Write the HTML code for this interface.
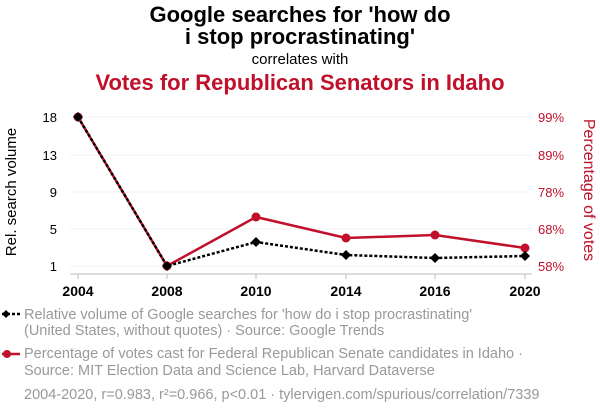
<!DOCTYPE html>
<html><head><style>
body{margin:0;background:#fff;width:600px;height:414px;overflow:hidden;font-family:"Liberation Sans",sans-serif}
</style></head><body>
<svg width="600" height="414" xmlns="http://www.w3.org/2000/svg" font-family="Liberation Sans, sans-serif">
<text x="300" y="22" text-anchor="middle" font-size="22" font-weight="bold" fill="#000">Google searches for 'how do</text>
<text x="300" y="44" text-anchor="middle" font-size="22" font-weight="bold" fill="#000">i stop procrastinating'</text>
<text x="300" y="64" text-anchor="middle" font-size="15" fill="#000">correlates with</text>
<text x="300" y="90" text-anchor="middle" font-size="22" font-weight="bold" fill="#c0102a">Votes for Republican Senators in Idaho</text>
<g stroke="#f0f0f0" stroke-width="1">
<line x1="70" x2="532" y1="117" y2="117"/><line x1="70" x2="532" y1="155" y2="155"/><line x1="70" x2="532" y1="192" y2="192"/><line x1="70" x2="532" y1="229" y2="229"/><line x1="70" x2="532" y1="266" y2="266"/>
</g>
<line x1="70" x2="532" y1="274" y2="274" stroke="#bbb"/>
<g stroke="#bbb"><line x1="78" x2="78" y1="274" y2="279"/><line x1="167" x2="167" y1="274" y2="279"/><line x1="256" x2="256" y1="274" y2="279"/><line x1="346" x2="346" y1="274" y2="279"/><line x1="435" x2="435" y1="274" y2="279"/><line x1="525" x2="525" y1="274" y2="279"/></g>
<g font-size="13" text-anchor="end" fill="#000">
<text x="57" y="122">18</text><text x="57" y="160">13</text><text x="57" y="197">9</text><text x="57" y="234">5</text><text x="57" y="271">1</text></g>
<g font-size="13" fill="#c0102a">
<text x="538" y="122">99%</text><text x="538" y="160">89%</text><text x="538" y="197">78%</text><text x="538" y="234">68%</text><text x="538" y="271">58%</text></g>
<g font-size="14" font-weight="bold" text-anchor="middle" fill="#000">
<text x="78" y="296">2004</text><text x="167" y="296">2008</text><text x="256" y="296">2010</text><text x="346" y="296">2014</text><text x="435" y="296">2016</text><text x="525" y="296">2020</text></g>
<text transform="translate(16,192) rotate(-90)" text-anchor="middle" font-size="15" fill="#000">Rel. search volume</text>
<text transform="translate(584,190) rotate(90)" text-anchor="middle" font-size="16" fill="#c0102a">Percentage of votes</text>
<polyline points="78,117 167,266 256,217 346,238 435,235 525,248" fill="none" stroke="#c0102a" stroke-width="2.5"/>
<g fill="#c0102a"><circle cx="78" cy="117" r="4.5"/><circle cx="167" cy="266" r="4.5"/><circle cx="256" cy="217" r="4.5"/><circle cx="346" cy="238" r="4.5"/><circle cx="435" cy="235" r="4.5"/><circle cx="525" cy="248" r="4.5"/></g>
<polyline points="78,117 167,266 256,242 346,255 435,258 525,256" fill="none" stroke="#000" stroke-width="2.5" stroke-dasharray="3,2"/>
<g fill="#000"><path d="M78 112l5 5-5 5-5-5z"/><path d="M167 261l5 5-5 5-5-5z"/><path d="M256 237l5 5-5 5-5-5z"/><path d="M346 250l5 5-5 5-5-5z"/><path d="M435 253l5 5-5 5-5-5z"/><path d="M525 251l5 5-5 5-5-5z"/></g>
<line x1="2" x2="20" y1="314" y2="314" stroke="#000" stroke-width="2.5" stroke-dasharray="3,2"/>
<path d="M6 310l4 4-4 4-4-4z" fill="#000"/>
<text x="24" y="319" font-size="14.5" fill="#999">Relative volume of Google searches for 'how do i stop procrastinating'</text>
<text x="24" y="335" font-size="14.5" fill="#999">(United States, without quotes) · Source: Google Trends</text>
<line x1="2" x2="20" y1="354" y2="354" stroke="#c0102a" stroke-width="2.5"/>
<circle cx="7" cy="354" r="4" fill="#c0102a"/>
<text x="24" y="358" font-size="14.5" fill="#999">Percentage of votes cast for Federal Republican Senate candidates in Idaho ·</text>
<text x="24" y="375" font-size="14.5" fill="#999">Source: MIT Election Data and Science Lab, Harvard Dataverse</text>
<text x="24" y="399" font-size="14.5" fill="#999">2004-2020, r=0.983, r²=0.966, p&lt;0.01 · tylervigen.com/spurious/correlation/7339</text>
</svg>
</body></html>
